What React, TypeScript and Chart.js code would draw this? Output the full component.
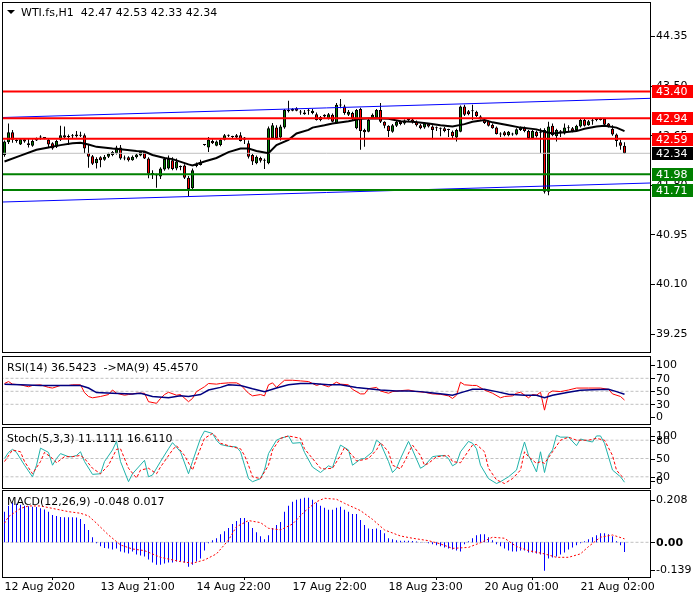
import { useEffect, useRef } from "react";
import { Chart, registerables } from "chart.js";

Chart.register(...registerables);

const FONT = "'DejaVu Sans', 'Liberation Sans', sans-serif";
Chart.defaults.font.family = FONT;
Chart.defaults.font.size = 11;
Chart.defaults.color = "#000";

// ---------- hourly candles (WTI.fs, H1) ----------
const opens = [
  42.31, 42.53, 42.70, 42.57, 42.49, 42.58, 42.48, 42.47, 42.56, 42.61, 42.60, 42.57, 42.51, 42.45, 42.57, 42.65, 42.62, 42.64, 42.63, 42.64,
  42.65, 42.35, 42.29, 42.17, 42.27, 42.23, 42.28, 42.31, 42.34, 42.44, 42.26, 42.27, 42.22, 42.27, 42.30, 42.36, 42.25, 42.00, 41.97, 41.94,
  42.06, 42.08, 42.22, 42.08, 42.12, 42.13, 41.92, 41.74, 42.12, 42.14, 42.48, 42.44, 42.55, 42.47, 42.48, 42.57, 42.64, 42.62, 42.65, 42.65,
  42.61, 42.51, 42.31, 42.17, 42.26, 42.22, 42.17, 42.60, 42.78, 42.61, 42.78, 43.06, 43.07, 43.11, 43.04, 43.01, 43.07, 43.03, 43.01, 42.91,
  43.00, 42.93, 43.00, 42.85, 43.17, 43.14, 43.00, 43.03, 42.77, 43.10, 42.74, 42.71, 42.95, 42.95, 43.08, 42.88, 42.81, 42.71, 42.81, 42.88,
  42.85, 42.91, 42.92, 42.88, 42.82, 42.78, 42.84, 42.80, 42.77, 42.76, 42.77, 42.74, 42.71, 42.61, 42.71, 43.14, 43.06, 43.06, 43.05, 42.97,
  42.91, 42.89, 42.83, 42.78, 42.66, 42.70, 42.65, 42.67, 42.66, 42.74, 42.78, 42.72, 42.60, 42.71, 42.70, 42.74, 41.68, 42.81, 42.63, 42.72,
  42.68, 42.77, 42.77, 42.74, 42.80, 42.91, 42.82, 42.89, 42.91, 42.91, 42.93, 42.85, 42.76, 42.66, 42.53, 42.47,
];
const highs = [
  42.56, 42.85, 42.74, 42.58, 42.60, 42.60, 42.59, 42.58, 42.61, 42.65, 42.62, 42.59, 42.53, 42.57, 42.81, 42.80, 42.66, 42.67, 42.72, 42.71,
  42.68, 42.48, 42.31, 42.27, 42.29, 42.31, 42.35, 42.38, 42.47, 42.48, 42.30, 42.29, 42.30, 42.33, 42.38, 42.38, 42.27, 42.05, 41.99, 42.10,
  42.27, 42.30, 42.27, 42.25, 42.13, 42.15, 41.95, 42.08, 42.18, 42.23, 42.49, 42.62, 42.58, 42.56, 42.58, 42.67, 42.66, 42.64, 42.67, 42.70,
  42.62, 42.56, 42.33, 42.30, 42.28, 42.25, 42.80, 42.86, 42.82, 42.83, 43.10, 43.24, 43.11, 43.13, 43.08, 43.08, 43.10, 43.10, 43.04, 42.98,
  43.01, 43.03, 43.02, 43.20, 43.27, 43.17, 43.08, 43.05, 43.10, 43.12, 42.76, 42.93, 43.02, 43.10, 43.20, 42.89, 42.82, 42.84, 42.90, 42.90,
  42.92, 42.93, 42.94, 42.90, 42.84, 42.87, 42.86, 42.82, 42.80, 42.78, 42.79, 42.76, 42.73, 42.76, 43.16, 43.17, 43.08, 43.17, 43.07, 42.99,
  42.94, 42.90, 42.85, 42.80, 42.70, 42.72, 42.72, 42.69, 42.77, 42.80, 42.80, 42.74, 42.74, 42.73, 42.77, 42.77, 42.88, 42.85, 42.76, 42.74,
  42.85, 42.82, 42.79, 42.83, 42.93, 42.93, 42.91, 42.94, 42.93, 42.95, 42.94, 42.86, 42.82, 42.68, 42.57, 42.53,
];
const lows = [
  42.28, 42.50, 42.52, 42.52, 42.48, 42.52, 42.44, 42.45, 42.55, 42.57, 42.58, 42.44, 42.40, 42.43, 42.55, 42.59, 42.48, 42.60, 42.61, 42.62,
  42.34, 42.09, 42.14, 42.08, 42.10, 42.21, 42.26, 42.29, 42.32, 42.23, 42.22, 42.20, 42.21, 42.25, 42.29, 42.24, 41.91, 41.90, 41.75, 41.90,
  42.04, 42.06, 42.05, 42.05, 42.05, 41.90, 41.60, 41.70, 42.10, 42.13, 42.47, 42.36, 42.50, 42.46, 42.46, 42.56, 42.62, 42.60, 42.60, 42.54,
  42.50, 42.25, 42.14, 42.15, 42.18, 42.07, 42.15, 42.58, 42.57, 42.56, 42.76, 43.04, 43.06, 43.06, 43.00, 43.00, 43.00, 43.01, 42.90, 42.89,
  42.95, 42.92, 42.87, 42.84, 43.11, 43.00, 42.98, 42.91, 42.75, 42.40, 42.45, 42.70, 42.94, 42.93, 42.86, 42.77, 42.62, 42.69, 42.79, 42.82,
  42.83, 42.88, 42.85, 42.80, 42.75, 42.76, 42.78, 42.58, 42.72, 42.63, 42.70, 42.62, 42.60, 42.54, 42.70, 42.98, 42.99, 42.91, 42.96, 42.92,
  42.84, 42.80, 42.76, 42.66, 42.62, 42.63, 42.63, 42.64, 42.65, 42.72, 42.70, 42.58, 42.58, 42.61, 42.34, 41.65, 41.62, 42.63, 42.54, 42.62,
  42.66, 42.71, 42.70, 42.72, 42.78, 42.80, 42.81, 42.83, 42.89, 42.90, 42.82, 42.78, 42.64, 42.45, 42.40, 42.33,
];
const closes = [
  42.54, 42.70, 42.57, 42.55, 42.58, 42.54, 42.51, 42.55, 42.59, 42.61, 42.60, 42.49, 42.42, 42.55, 42.65, 42.61, 42.62, 42.63, 42.66, 42.64,
  42.42, 42.28, 42.16, 42.24, 42.22, 42.28, 42.33, 42.36, 42.44, 42.25, 42.25, 42.22, 42.28, 42.32, 42.36, 42.25, 41.99, 41.97, 41.96, 42.08,
  42.24, 42.24, 42.07, 42.20, 42.10, 41.92, 41.73, 42.05, 42.15, 42.19, 42.48, 42.57, 42.51, 42.54, 42.57, 42.65, 42.64, 42.62, 42.61, 42.55,
  42.57, 42.28, 42.20, 42.28, 42.21, 42.21, 42.77, 42.82, 42.60, 42.80, 43.08, 43.08, 43.10, 43.07, 43.04, 43.04, 43.07, 43.07, 42.91, 42.96,
  42.97, 43.01, 42.88, 43.17, 43.16, 43.03, 43.05, 42.94, 43.08, 42.72, 42.70, 42.91, 43.00, 43.08, 42.88, 42.81, 42.72, 42.82, 42.88, 42.84,
  42.90, 42.91, 42.87, 42.82, 42.77, 42.85, 42.80, 42.74, 42.77, 42.76, 42.72, 42.74, 42.63, 42.74, 43.14, 43.00, 43.01, 43.06, 42.98, 42.93,
  42.86, 42.81, 42.77, 42.67, 42.66, 42.65, 42.71, 42.66, 42.75, 42.78, 42.72, 42.60, 42.72, 42.63, 42.69, 41.68, 42.80, 42.65, 42.74, 42.71,
  42.78, 42.77, 42.72, 42.81, 42.91, 42.81, 42.89, 42.89, 42.91, 42.92, 42.83, 42.80, 42.66, 42.55, 42.47, 42.34,
];

// moving average on price (black)
const maBars = [0, 4, 8, 11, 14, 17, 19, 21, 23, 27, 29, 33, 35, 37, 40, 42, 46, 47, 50, 53, 56, 59, 61, 63, 66, 68, 71, 73, 76, 77, 80, 82, 86, 89, 92, 96, 99, 102, 106, 109, 112, 115, 117, 120, 122, 126, 129, 133, 135, 137, 140, 143, 145, 148, 150, 153, 155];
const maValues = [42.20, 42.30, 42.40, 42.44, 42.48, 42.51, 42.52, 42.49, 42.45, 42.42, 42.41, 42.38, 42.37, 42.31, 42.26, 42.24, 42.15, 42.13, 42.20, 42.26, 42.36, 42.42, 42.42, 42.38, 42.34, 42.48, 42.57, 42.68, 42.74, 42.78, 42.82, 42.85, 42.89, 42.93, 42.94, 42.93, 42.89, 42.88, 42.85, 42.82, 42.80, 42.84, 42.88, 42.91, 42.87, 42.82, 42.78, 42.75, 42.71, 42.68, 42.70, 42.72, 42.76, 42.80, 42.81, 42.78, 42.72];

// horizontal objects
const resistanceLevels = [43.40, 42.94, 42.59];
const supportLevels = [41.98, 41.71];
const bidPrice = 42.34;
const channelBars = [-1, 162];
const channelUpper = [42.952, 43.283];
const channelLower = [41.504, 41.832];
const priceTicks = [44.35, 43.50, 42.65, 41.80, 40.95, 40.10, 39.25];

// RSI(14) + MA(9)
const rsiBars = [0, 1, 2, 4, 6, 7, 9, 11, 12, 14, 16, 17, 19, 20, 21, 22, 24, 26, 27, 28, 30, 31, 33, 35, 36, 38, 39, 40, 41, 43, 44, 46, 47, 48, 50, 51, 53, 54, 56, 58, 59, 61, 62, 64, 65, 66, 67, 68, 70, 72, 74, 76, 78, 79, 81, 83, 84, 86, 87, 89, 90, 91, 93, 94, 96, 97, 99, 101, 103, 105, 107, 109, 111, 112, 113, 114, 115, 117, 118, 120, 122, 124, 125, 127, 128, 129, 131, 132, 133, 134, 135, 136, 137, 139, 141, 143, 146, 149, 151, 152, 154, 155];
const rsiValues = [62, 65, 61, 60, 57, 59, 60, 56, 55, 59, 59, 60, 60, 48, 42, 40, 42, 45, 52, 47, 44, 45, 47, 47, 34, 31.5, 39, 45, 48.5, 44, 45, 34, 39, 49.5, 57, 62, 61, 62, 63, 63, 60, 47, 43, 45, 43, 60, 63, 56, 67, 67, 66, 65, 59, 61, 57, 64, 61, 60, 53, 46, 46, 54, 56, 50.5, 47, 49.5, 51, 52, 49.5, 48.5, 46, 45.4, 43, 39, 44, 64, 60, 59, 59, 52, 47, 40, 42, 43, 47, 48.5, 40, 45, 44, 48.5, 21, 47, 50.5, 49.5, 52, 55, 55, 55, 53, 46, 42, 36.54];
const rsiMaBars = [0, 4, 9, 14, 19, 21, 23, 27, 32, 34, 37, 41, 44, 46, 49, 51, 54, 56, 59, 62, 65, 68, 71, 74, 77, 81, 84, 88, 91, 94, 98, 101, 104, 106, 110, 112, 115, 117, 120, 123, 126, 130, 133, 135, 137, 141, 144, 147, 151, 153, 155];
const rsiMaValues = [61, 60, 59, 59, 59, 55, 48, 47, 46, 47, 42, 40, 43, 42, 45, 52, 56, 60, 59, 54, 49.5, 55, 60, 62, 62, 60, 60, 56, 54, 52, 50.5, 50.5, 49.5, 48, 45.4, 44, 49.5, 53, 53, 49.5, 45.4, 44, 44, 40, 44, 48.5, 51.5, 52.5, 53, 49.5, 45.46];
const rsiLevels = [70, 50, 30];
const rsiTicks = [100, 70, 50, 30, 0];

// Stochastic(5,3,3)
const stochBars = [0, 1, 2, 3, 5, 7, 8, 9, 11, 12, 13, 14, 16, 17, 18, 19, 20, 22, 24, 25, 27, 28, 29, 31, 32, 35, 36, 37, 39, 41, 42, 44, 46, 47, 49, 50, 52, 53, 54, 56, 58, 59, 60, 61, 62, 64, 65, 66, 68, 69, 71, 72, 74, 75, 77, 79, 81, 82, 83, 84, 86, 87, 89, 90, 92, 93, 94, 96, 97, 98, 99, 101, 102, 104, 105, 107, 108, 110, 111, 112, 113, 114, 116, 117, 118, 119, 121, 123, 124, 126, 128, 129, 130, 131, 132, 133, 134, 135, 136, 137, 138, 139, 141, 143, 144, 145, 147, 148, 149, 150, 152, 154, 155];
const stochValues = [50, 60, 65, 60, 39, 20, 39, 67, 60, 39, 50, 58, 53, 53, 55, 61, 45, 24, 25, 45, 64, 78, 45, 12, 25, 47, 20, 23, 45, 66, 76, 61, 25, 45, 83, 95, 91, 80, 73, 70, 69, 61, 39, 17, 12, 17, 31, 58, 80, 83, 87, 75, 76, 60, 36, 27, 38, 35, 55, 72, 64, 39, 49, 50, 61, 80, 75, 45, 27, 34, 50, 78, 64, 34, 38, 53, 54, 55, 50, 38, 42, 61, 78, 75, 66, 39, 17, 9, 12, 20, 31, 55, 77, 55, 42, 28, 61, 27, 55, 64, 88, 85, 85, 71, 82, 80, 77, 87, 87, 75, 31, 20, 11.11];
const stochSignalBars = [0, 2, 4, 5, 7, 9, 10, 12, 13, 15, 17, 19, 20, 22, 24, 26, 28, 29, 31, 33, 34, 36, 38, 39, 42, 43, 45, 47, 48, 50, 52, 53, 54, 57, 59, 60, 61, 62, 64, 66, 67, 69, 71, 74, 75, 77, 79, 80, 82, 84, 85, 87, 88, 89, 91, 93, 94, 96, 97, 99, 100, 102, 104, 105, 106, 108, 111, 112, 114, 115, 117, 118, 120, 121, 123, 125, 127, 129, 130, 131, 133, 134, 135, 137, 139, 141, 143, 146, 148, 150, 152, 153, 154, 155];
const stochSignalValues = [45, 64, 61, 45, 25, 45, 60, 50, 43, 53, 53, 55, 50, 34, 25, 39, 65, 66, 34, 18, 31, 34, 25, 36, 64, 71, 55, 31, 50, 83, 91, 85, 75, 69, 66, 55, 39, 20, 17, 39, 64, 83, 87, 83, 66, 50, 34, 33, 34, 55, 68, 55, 46, 47, 50, 64, 76, 61, 39, 33, 45, 72, 55, 39, 42, 53, 55, 45, 43, 53, 72, 73, 61, 34, 15, 9, 17, 31, 61, 53, 42, 45, 42, 61, 80, 85, 80, 80, 83, 80, 55, 31, 23, 16.61];
const stochLevels = [80, 50, 20];
const stochTicks = [100, 80, 50, 20, 0];

// MACD(12,26,9)
const macdHist = [
  0.151, 0.18, 0.195, 0.19, 0.185, 0.18, 0.178, 0.175, 0.174, 0.168, 0.162, 0.15, 0.135, 0.13, 0.125, 0.123, 0.123, 0.123, 0.122, 0.115,
  0.09, 0.06, 0.025, -0.005, -0.02, -0.028, -0.03, -0.035, -0.03, -0.045, -0.05, -0.055, -0.045, -0.06, -0.065, -0.07, -0.085, -0.1, -0.11, -0.11,
  -0.105, -0.1, -0.1, -0.095, -0.095, -0.1, -0.12, -0.11, -0.095, -0.08, -0.04, -0.005, 0.01, 0.02, 0.04, 0.055, 0.07, 0.09, 0.105, 0.12,
  0.12, 0.1, 0.07, 0.05, 0.03, 0.015, 0.035, 0.07, 0.085, 0.1, 0.15, 0.18, 0.2, 0.21, 0.215, 0.22, 0.22, 0.21, 0.195, 0.18,
  0.17, 0.16, 0.16, 0.17, 0.175, 0.16, 0.15, 0.14, 0.14, 0.11, 0.085, 0.068, 0.065, 0.068, 0.06, 0.045, 0.02, 0.015, 0.01, 0.008,
  0.008, 0.008, 0.006, 0.004, 0.002, 0.001, -0.005, -0.01, -0.015, -0.02, -0.025, -0.03, -0.035, -0.04, -0.045, -0.01, 0.005, 0.02, 0.035, 0.04,
  0.04, 0.025, 0.01, -0.01, -0.02, -0.03, -0.04, -0.045, -0.045, -0.04, -0.04, -0.05, -0.05, -0.055, -0.06, -0.14, -0.08, -0.075, -0.07, -0.06,
  -0.05, -0.035, -0.025, -0.015, -0.005, 0.005, 0.015, 0.025, 0.035, 0.045, 0.045, 0.04, 0.03, 0.005, -0.015, -0.048,
];
const macdSignalBars = [0, 1, 4, 6, 9, 12, 16, 19, 21, 23, 26, 29, 32, 35, 39, 44, 47, 50, 53, 56, 58, 61, 64, 66, 69, 72, 75, 78, 80, 83, 85, 89, 92, 95, 99, 102, 106, 109, 112, 116, 119, 122, 125, 128, 131, 135, 138, 141, 144, 146, 149, 152, 155];
const macdSignalValues = [0.094, 0.126, 0.167, 0.179, 0.179, 0.167, 0.151, 0.143, 0.13, 0.094, 0.036, -0.013, -0.033, -0.041, -0.074, -0.095, -0.103, -0.087, -0.057, 0.011, 0.077, 0.107, 0.097, 0.069, 0.061, 0.09, 0.151, 0.2, 0.217, 0.212, 0.192, 0.156, 0.113, 0.061, 0.031, 0.02, 0.008, -0.008, -0.03, -0.025, -0.002, 0.025, 0.02, -0.021, -0.041, -0.057, -0.074, -0.074, -0.057, -0.021, 0.025, 0.036, 0.017];
const macdTicks = [0.208, 0, -0.139];

// time axis
const dateTickBars = [0, 24, 48, 72, 96, 120, 144];
const dateLabels = ["12 Aug 2020", "13 Aug 21:00", "14 Aug 22:00", "17 Aug 22:00", "18 Aug 23:00", "20 Aug 01:00", "21 Aug 02:00"];

// headers
const mainHeader = "WTI.fs,H1  42.47 42.53 42.33 42.34";
const rsiHeader = "RSI(14) 36.5423  ->MA(9) 45.4570";
const stochHeader = "Stoch(5,3,3) 11.1111 16.6110";
const macdHeader = "MACD(12,26,9) -0.048 0.017";

// ---------- layout ----------
const X_MIN = -0.375;
const X_MAX = 161.375;
const SPAN_FROM = -1;
const SPAN_TO = 162;

const pts = (bars: number[], vals: number[]) => bars.map((b, k) => ({ x: b, y: vals[k] }));
const hline = (v: number) => [{ x: SPAN_FROM, y: v }, { x: SPAN_TO, y: v }];

const lineDs = (data: any[], color: string, width: number, dash: number[], order: number) => ({
  type: "line",
  data,
  borderColor: color,
  backgroundColor: color,
  borderWidth: width,
  borderDash: dash,
  pointRadius: 0,
  tension: 0,
  fill: false,
  order,
  clip: 0,
});

type Box = { value: number; bg: string; fg: string };
type OverlayCfg = {
  frameTop: number;
  frameBottom: number;
  ticks: number[];
  fmt: (v: number) => string;
  clamp: boolean;
  header: string;
  headerX: number;
  headerY: number;
  triangle?: boolean;
  boldZero?: boolean;
  boxes?: Box[];
};

function overlay(cfg: OverlayCfg) {
  return {
    id: "mtOverlay",
    afterDraw(chart: any) {
      const ctx: CanvasRenderingContext2D = chart.ctx;
      const ys = chart.scales.y;
      ctx.save();
      ctx.strokeStyle = "#000";
      ctx.lineWidth = 1;
      ctx.strokeRect(2.5, cfg.frameTop + 0.5, 648, cfg.frameBottom - cfg.frameTop);
      ctx.textBaseline = "middle";
      ctx.textAlign = "left";
      ctx.fillStyle = "#000";
      for (const v of cfg.ticks) {
        let py = ys.getPixelForValue(v);
        if (cfg.clamp) py = Math.min(Math.max(py, cfg.frameTop + 9), cfg.frameBottom - 7);
        ctx.fillRect(651, Math.round(py), 4, 1);
        ctx.font = `${cfg.boldZero && v === 0 ? "bold " : ""}11px ${FONT}`;
        ctx.fillText(cfg.fmt(v), 656, py + 0.5);
      }
      for (const b of cfg.boxes ?? []) {
        const py = Math.round(ys.getPixelForValue(b.value));
        ctx.fillStyle = b.bg;
        ctx.fillRect(652, py - 6, 41, 13);
        ctx.fillStyle = b.fg;
        ctx.font = `11px ${FONT}`;
        ctx.fillText(b.value.toFixed(2), 656, py + 1);
      }
      ctx.fillStyle = "#000";
      ctx.font = `11px ${FONT}`;
      if (cfg.triangle) {
        ctx.beginPath();
        ctx.moveTo(7, 10);
        ctx.lineTo(15, 10);
        ctx.lineTo(11, 14);
        ctx.closePath();
        ctx.fill();
      }
      ctx.fillText(cfg.header, cfg.headerX, cfg.headerY);
      ctx.restore();
    },
  };
}

function build(
  canvas: HTMLCanvasElement,
  datasets: any[],
  yMin: number,
  yMax: number,
  top: number,
  bottom: number,
  plugin: any,
  showX: boolean
) {
  const xScale: any = {
    type: "linear",
    min: X_MIN,
    max: X_MAX,
    offset: false,
    display: showX,
  };
  if (showX) {
    Object.assign(xScale, {
      border: { display: false },
      grid: { display: true, drawOnChartArea: false, drawTicks: true, tickLength: 3, color: "#000", lineWidth: 1 },
      ticks: {
        autoSkip: false,
        maxRotation: 0,
        minRotation: 0,
        align: "start",
        padding: 1,
        color: "#000",
        font: { family: FONT, size: 11 },
        callback: (v: number) => dateLabels[dateTickBars.indexOf(v)] ?? "",
      },
      afterBuildTicks: (axis: any) => {
        axis.ticks = dateTickBars.map((v) => ({ value: v }));
      },
      afterFit: (axis: any) => {
        axis.height = 20;
      },
    });
  }
  return new Chart(canvas, {
    type: "bar",
    data: { datasets },
    options: {
      responsive: false,
      animation: false,
      events: [],
      layout: { padding: { left: 3, right: 50, top, bottom: showX ? 600 - bottom - 20 : 600 - bottom } },
      plugins: { legend: { display: false }, tooltip: { enabled: false } },
      scales: {
        x: xScale,
        y: { type: "linear", min: yMin, max: yMax, display: false },
      },
    } as any,
    plugins: [plugin],
  } as any);
}

function makeMain(canvas: HTMLCanvasElement) {
  const bodies = opens.map((o, i) => ({ x: i, y: [o, closes[i]] }));
  const wicks = lows.map((l, i) => ({ x: i, y: [l, highs[i]] }));
  const datasets: any[] = [
    {
      type: "bar",
      data: wicks,
      backgroundColor: "#000",
      borderWidth: 0,
      barThickness: 1,
      grouped: false,
      inflateAmount: 0,
      order: 6,
      clip: 0,
    },
    {
      type: "bar",
      data: bodies,
      backgroundColor: opens.map((o, i) => (closes[i] >= o ? "#008000" : "#FF0000")),
      borderColor: "#000",
      borderWidth: 1,
      borderSkipped: false,
      barThickness: 3,
      grouped: false,
      minBarLength: 1,
      inflateAmount: 0,
      order: 5,
      clip: 0,
    },
    lineDs(hline(bidPrice), "#C0C0C0", 1, [], 4),
    lineDs(pts(channelBars, channelUpper), "#0000FF", 1, [], 3),
    lineDs(pts(channelBars, channelLower), "#0000FF", 1, [], 3),
    lineDs(pts(maBars, maValues), "#000000", 2, [], 2),
    ...resistanceLevels.map((v) => lineDs(hline(v), "#FF0000", 2, [], 1)),
    ...supportLevels.map((v) => lineDs(hline(v), "#008000", 2, [], 1)),
  ];
  const boxes: Box[] = [
    ...resistanceLevels.map((v) => ({ value: v, bg: "#FF0000", fg: "#FFFFFF" })),
    { value: bidPrice, bg: "#000000", fg: "#FFFFFF" },
    ...supportLevels.map((v) => ({ value: v, bg: "#008000", fg: "#FFFFFF" })),
  ];
  // 44.35 at y=36, 58.35 px per unit, plot 3..352
  const yMax = 44.35 + 33 / 58.35;
  const yMin = 44.35 - 316 / 58.35;
  return build(
    canvas,
    datasets,
    yMin,
    yMax,
    3,
    352,
    overlay({
      frameTop: 2,
      frameBottom: 352,
      ticks: priceTicks,
      fmt: (v) => v.toFixed(2),
      clamp: false,
      header: mainHeader,
      headerX: 21,
      headerY: 13,
      triangle: true,
      boxes,
    }),
    false
  );
}

function makeRsi(canvas: HTMLCanvasElement) {
  const datasets: any[] = [
    ...rsiLevels.map((v) => lineDs(hline(v), "#C0C0C0", 1, [3, 2], 3)),
    lineDs(pts(rsiBars, rsiValues), "#FF0000", 1, [], 2),
    lineDs(pts(rsiMaBars, rsiMaValues), "#000080", 1.5, [], 1),
  ];
  return build(
    canvas,
    datasets,
    -0.31,
    102.77,
    357,
    424,
    overlay({
      frameTop: 356,
      frameBottom: 424,
      ticks: rsiTicks,
      fmt: (v) => String(v),
      clamp: true,
      header: rsiHeader,
      headerX: 7,
      headerY: 368,
    }),
    false
  );
}

function makeStoch(canvas: HTMLCanvasElement) {
  const datasets: any[] = [
    ...stochLevels.map((v) => lineDs(hline(v), "#C0C0C0", 1, [3, 2], 3)),
    lineDs(pts(stochBars, stochValues), "#20B2AA", 1, [], 2),
    lineDs(pts(stochSignalBars, stochSignalValues), "#FF0000", 1, [3, 2], 1),
  ];
  return build(
    canvas,
    datasets,
    0,
    100,
    428,
    489,
    overlay({
      frameTop: 427,
      frameBottom: 488,
      ticks: stochTicks,
      fmt: (v) => String(v),
      clamp: true,
      header: stochHeader,
      headerX: 7,
      headerY: 439,
    }),
    false
  );
}

function makeMacd(canvas: HTMLCanvasElement) {
  const datasets: any[] = [
    lineDs(hline(0), "#C0C0C0", 1, [3, 2], 3),
    {
      type: "bar",
      data: macdHist.map((v, i) => ({ x: i, y: v })),
      backgroundColor: "#0000FF",
      borderWidth: 0,
      barThickness: 1,
      grouped: false,
      inflateAmount: 0,
      order: 2,
      clip: 0,
    },
    lineDs(pts(macdSignalBars, macdSignalValues), "#FF0000", 1, [2, 2], 1),
  ];
  const yMax = 51.3 / 203;
  const yMin = -34.7 / 203;
  return build(
    canvas,
    datasets,
    yMin,
    yMax,
    491,
    577,
    overlay({
      frameTop: 490,
      frameBottom: 577,
      ticks: macdTicks,
      fmt: (v) => (v === 0 ? "0.00" : v.toFixed(3)),
      clamp: true,
      header: macdHeader,
      headerX: 7,
      headerY: 502,
      boldZero: true,
    }),
    true
  );
}

export default function App() {
  const r1 = useRef<HTMLCanvasElement>(null);
  const r2 = useRef<HTMLCanvasElement>(null);
  const r3 = useRef<HTMLCanvasElement>(null);
  const r4 = useRef<HTMLCanvasElement>(null);

  useEffect(() => {
    const charts = [
      makeMain(r1.current!),
      makeRsi(r2.current!),
      makeStoch(r3.current!),
      makeMacd(r4.current!),
    ];
    return () => charts.forEach((c) => c.destroy());
  }, []);

  const cs: any = { position: "absolute", left: 0, top: 0, width: 700, height: 600 };
  return (
    <div style={{ position: "fixed", left: 0, top: 0, width: 700, height: 600, background: "#fff", overflow: "hidden" }}>
      <canvas ref={r1} width={700} height={600} style={cs} />
      <canvas ref={r2} width={700} height={600} style={cs} />
      <canvas ref={r3} width={700} height={600} style={cs} />
      <canvas ref={r4} width={700} height={600} style={cs} />
    </div>
  );
}
